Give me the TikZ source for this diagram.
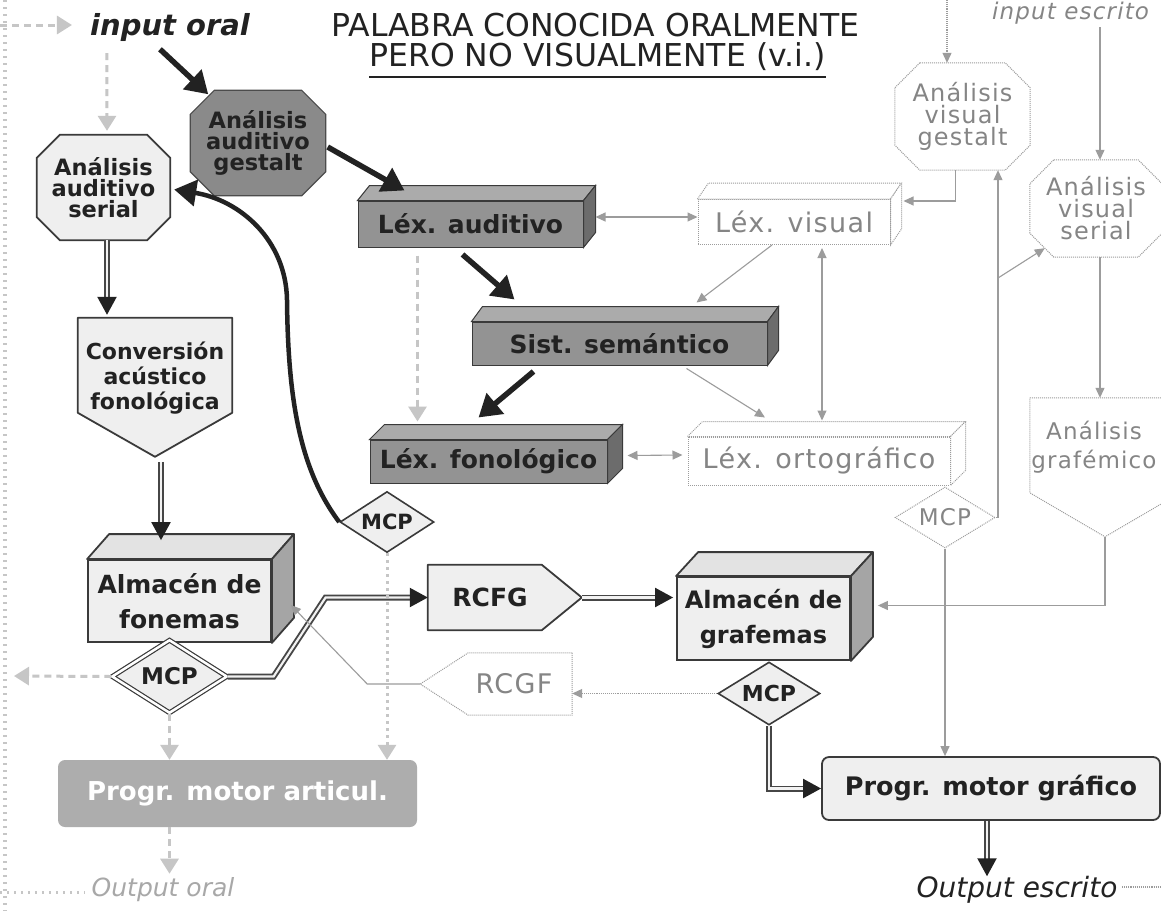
\documentclass[tikz,border=0pt]{standalone}
\usepackage{fontspec}
\setmainfont{DejaVu Sans}
\newfontfamily\grayfam[LetterSpace=5]{DejaVu Sans}
\usetikzlibrary{arrows.meta,shapes.geometric,calc,backgrounds}

\definecolor{ink}{HTML}{222222}
\definecolor{edge}{HTML}{3A3A3A}
\definecolor{dkfront}{HTML}{939393}
\definecolor{dktop}{HTML}{ABABAB}
\definecolor{dkside}{HTML}{6C6C6C}
\definecolor{ltfront}{HTML}{EFEFEF}
\definecolor{lttop}{HTML}{E3E3E3}
\definecolor{ltside}{HTML}{A5A5A5}
\definecolor{faint}{HTML}{858585}
\definecolor{fline}{HTML}{9C9C9C}
\definecolor{ghost}{HTML}{C6C6C6}
\definecolor{artic}{HTML}{ADADAD}
\definecolor{gestdk}{HTML}{8A8A8A}

\newcommand\boldsz[2]{\fontsize{#1}{#2}\selectfont\bfseries}
\newcommand\graysz[2]{\grayfam\fontsize{#1}{#2}\selectfont}
\newcommand\italsz[2]{\fontsize{#1}{#2}\selectfont\itshape}

% octagon drawn behind a node
\newcommand\octof[3]{%
 \begin{scope}[on background layer]
 \filldraw[#3] ($(#1.north west)+(#2,0)$) -- ($(#1.north east)+(-#2,0)$) -- ($(#1.north east)+(0,#2)$) -- ($(#1.south east)+(0,-#2)$) -- ($(#1.south east)+(-#2,0)$) -- ($(#1.south west)+(#2,0)$) -- ($(#1.south west)+(0,-#2)$) -- ($(#1.north west)+(0,#2)$) -- cycle;
 \end{scope}}
% top and side faces of a box
\newcommand\cubefaces[6]{%
 \filldraw[#6,fill=#4] (#1.north west) -- ($(#1.north west)+(#2,-#3)$) -- ($(#1.north east)+(#2,-#3)$) -- (#1.north east) -- cycle;
 \filldraw[#6,fill=#5] (#1.north east) -- ($(#1.north east)+(#2,-#3)$) -- ($(#1.south east)+(#2,-#3)$) -- (#1.south east) -- cycle;}

\begin{document}
\begin{tikzpicture}[x=1pt,y=-1pt,
  lbl/.style={inner sep=0pt, align=center, text=ink},
  darkfront/.style={rectangle, fill=dkfront, draw=edge, line width=1pt, inner sep=0pt, text=ink, font=\boldsz{25}{27}},
  litefront/.style={rectangle, fill=ltfront, draw=edge, line width=1.8pt, inner sep=0pt, align=center, text=ink},
  ghostfront/.style={rectangle, fill=white, draw=fline, line width=1pt, densely dotted, inner sep=0pt, text=faint, font=\graysz{27}{29}},
  darkfaces/.style={draw=edge, line width=1pt},
  litefaces/.style={draw=edge, line width=1.8pt, line join=round},
  ghostfaces/.style={draw=fline, line width=1pt, densely dotted},
  litebg/.style={fill=ltfront, draw=edge, line width=1.8pt, line join=round},
  ghostbg/.style={fill=white, draw=fline, line width=1pt, densely dotted},
  bigarrow/.style={draw=ink, line width=5.5pt, -{Triangle[length=22pt,width=26pt]}},
  dblarrow/.style={draw=white!90!gray, line width=2.2pt, -{Triangle[length=18pt,width=19pt,color=ink]},
     preaction={draw=gray!55!black, line width=6pt, -, shorten >=16pt}},
  gline/.style={draw=fline, line width=1.1pt},
  garrow/.style={gline, -{Triangle[length=10pt,width=9pt]}},
  gboth/.style={gline, {Triangle[length=10pt,width=9pt]}-{Triangle[length=10pt,width=9pt]}},
  gdotarrow/.style={garrow, densely dotted},
  ghostarrow/.style={draw=ghost, line width=3pt, dash pattern=on 7pt off 5pt, -{Triangle[length=15pt,width=18pt,color=ghost]}},
  ghostcol/.style={draw=ghost, line width=4pt, dash pattern=on 2pt off 5pt}
]
\useasboundingbox (0,0) rectangle (1161,911);
\clip (0,0) rectangle (1161,911);
\begin{scope}[on background layer]
\fill[white] (0,0) rectangle (1161,911);
\end{scope}

% free ends
\coordinate (colTop) at (5,0);
\coordinate (colBot) at (5,911);
\coordinate (edgeIn) at (0,25);
\coordinate (edgeMcp) at (14,676);
\coordinate (edgeOut) at (0,892);
\coordinate (topA) at (947,0);
\coordinate (topB) at (1100,27);
\coordinate (edgeR1) at (1122,887);
\coordinate (edgeR2) at (1161,887);

% title and texts
\node[lbl, font=\fontsize{31.5}{34}\selectfont] (t1) at (595.5,25) {PALABRA CONOCIDA ORALMENTE};
\node[lbl, font=\fontsize{31.5}{34}\selectfont] (t2) at (597.5,57) {PERO NO VISUALMENTE (v.i.)};
\draw[ink, line width=1.6pt] ($(t2.west)+(0,20)$) -- ($(t2.east)+(0,20)$);
\node[lbl, font=\italsz{29}{31}\bfseries] (io) at (170,27) {input oral};
\node[lbl, anchor=base west, text=faint, font=\graysz{23}{25}\itshape] (ie) at (992,19) {input escrito};
\node[lbl, font=\italsz{28}{30}] (oe) at (1017,890) {Output escrito};
\node[lbl, text=ghost!85!black, font=\italsz{25}{27}] (oo) at (163,890) {Output oral};

% octagons
\node[lbl, minimum width=135pt, minimum height=105pt, font=\boldsz{22.5}{21}] (gestaud) at (258,143) {Análisis\\auditivo\\gestalt};
\octof{gestaud}{24}{fill=gestdk, draw=gray!60!black, line width=1.2pt}
\node[lbl, minimum width=133pt, minimum height=105pt, font=\boldsz{22.5}{21}] (serialaud) at (103.5,187.5) {Análisis\\auditivo\\serial};
\octof{serialaud}{23}{fill=ltfront, draw=edge, line width=1.8pt}
\node[lbl, minimum width=135pt, minimum height=107pt, text=faint, font=\graysz{24}{22}] (gestvis) at (962.5,116.5) {Análisis\\visual\\gestalt};
\octof{gestvis}{25}{ghostbg}
\node[lbl, minimum width=132pt, minimum height=97pt, text=faint, font=\graysz{24}{22}] (serialvis) at (1096,208.5) {Análisis\\visual\\serial};
\octof{serialvis}{24}{ghostbg}

% pentagons
\node[lbl, minimum width=154pt, minimum height=120pt, font=\boldsz{22}{25}] (conv) at (155,378) {Conversión\\acústico\\fonológica};
\coordinate (convtip) at ($(conv.north)+(0,139)$);
\coordinate (convtop) at ($(conv.north)+(-48,-3)$);
\begin{scope}[on background layer]
\filldraw[litebg] (conv.north west) -- (conv.north east) -- ($(conv.north east)+(0,95)$) -- (convtip) -- ($(conv.north west)+(0,95)$) -- cycle;
\end{scope}
\node[lbl, minimum width=150pt, minimum height=98pt] (grafem) at (1105,447) {};
\node[lbl, text=faint, font=\graysz{23}{29}] (grafemL) at (1094,447) {Análisis\\grafémico};
\coordinate (grafemtip) at ($(grafem.north)+(0,139)$);
\begin{scope}[on background layer]
\filldraw[ghostbg] (grafem.north west) -- (grafem.north east) -- ($(grafem.north east)+(0,95)$) -- (grafemtip) -- ($(grafem.north west)+(0,95)$) -- cycle;
\end{scope}
\node[lbl, minimum width=124pt, minimum height=65pt, font=\boldsz{25}{27}] (rcfg) at (490,597.5) {RCFG};
\coordinate (rcfgtip) at ($(rcfg.west)+(154,0)$);
\begin{scope}[on background layer]
\filldraw[litebg] (rcfg.north west) -- ($(rcfg.north west)+(114,0)$) -- (rcfgtip) -- ($(rcfg.south west)+(114,0)$) -- (rcfg.south west) -- cycle;
\end{scope}
\node[lbl, minimum width=116pt, minimum height=62pt, text=faint, font=\graysz{27}{29}] (rcgf) at (514,684) {RCGF};
\coordinate (rcgftip) at ($(rcgf.east)+(-152,0)$);
\begin{scope}[on background layer]
\filldraw[ghostbg] (rcgf.north east) -- (rcgf.south east) -- ($(rcgf.south east)+(-104,0)$) -- (rcgftip) -- ($(rcgf.north east)+(-104,0)$) -- cycle;
\end{scope}

% 3D boxes
\node[darkfront, minimum width=225pt, minimum height=46pt] (lexaud) at (470.5,224) {Léx. auditivo};
\cubefaces{lexaud}{12}{15}{dktop}{dkside}{darkfaces}
\node[ghostfront, minimum width=192pt, minimum height=45pt] (lexvis) at (794,222) {Léx. visual};
\cubefaces{lexvis}{11}{16}{white}{white}{ghostfaces}
\node[darkfront, minimum width=295pt, minimum height=43pt] (sistsem) at (619.5,343.5) {Sist. semántico};
\cubefaces{sistsem}{11}{15}{dktop}{dkside}{darkfaces}
\node[darkfront, minimum width=237pt, minimum height=43pt] (lexfon) at (488.5,461.5) {Léx. fonológico};
\cubefaces{lexfon}{15}{15}{dktop}{dkside}{darkfaces}
\node[ghostfront, minimum width=262pt, minimum height=48pt] (lexorto) at (819,461) {Léx. ortográfico};
\cubefaces{lexorto}{15}{15}{white}{white}{ghostfaces}
\node[litefront, minimum width=183pt, minimum height=82pt, font=\boldsz{25}{35}] (almfon) at (179.5,601) {Almacén de\\fonemas};
\cubefaces{almfon}{22}{25}{lttop}{ltside}{litefaces}
\node[litefront, minimum width=173pt, minimum height=83pt, font=\boldsz{24}{35}] (almgraf) at (763.5,618.5) {Almacén de\\grafemas};
\cubefaces{almgraf}{22}{24}{lttop}{ltside}{litefaces}

% rounded boxes
\node[rectangle, rounded corners=7pt, fill=artic, minimum width=359pt, minimum height=67pt, inner sep=0pt, text=white, font=\boldsz{26}{28}] (progart) at (237.5,793.5) {Progr. motor articul.};
\node[rectangle, rounded corners=7pt, fill=ltfront, draw=edge, line width=1.8pt, minimum width=338pt, minimum height=63pt, inner sep=0pt, text=ink, font=\boldsz{25.5}{28}] (proggraf) at (991,788.5) {Progr. motor gráfico};

% diamonds
\node[diamond, minimum width=115pt, minimum height=73pt, inner sep=0pt, fill=ltfront, draw=edge, line width=1.2pt, double=white, double distance=2.5pt] (mcpfon) at (169.5,676.5) {};
\node[lbl, font=\boldsz{23}{25}] (mcpfonL) at (mcpfon) {MCP};
\node[diamond, minimum width=94pt, minimum height=61pt, inner sep=0pt, fill=ltfront, draw=edge, line width=1.6pt] (mcpfono) at (387,522) {};
\node[lbl, font=\boldsz{21}{22}] (mcpfonoL) at (mcpfono) {MCP};
\node[diamond, minimum width=102pt, minimum height=63pt, inner sep=0pt, fill=ltfront, draw=edge, line width=1.6pt] (mcpgraf) at (769,693.5) {};
\node[lbl, font=\boldsz{22}{24}] (mcpgrafL) at (mcpgraf) {MCP};
\node[diamond, minimum width=100pt, minimum height=61pt, inner sep=0pt, fill=white, draw=fline, line width=1pt, densely dotted] (mcporto) at (945,517.5) {};
\node[lbl, text=faint, font=\graysz{23}{25}] (mcportoL) at (mcporto) {MCP};

% ---------- connectors ----------
\draw[ghostcol] (colTop) -- (colBot);
\draw[ghostarrow] (edgeIn) -- ($(io.west)+(-18,-2)$);
\draw[ghostarrow] ($(io.south west)+(17,12)$) -- ($(serialaud.north)+(3.5,-4)$);
\draw[bigarrow] ($(io.south)+(-10,8)$) -- ($(gestaud.north west)+(18,4)$);
\draw[bigarrow] ($(gestaud.east)+(2,4)$) -- ($(lexaud.north west)+(47,-10)$);
\draw[bigarrow] ($(lexaud.south)+(-8,7)$) -- ($(sistsem.north west)+(43,-22)$);
\draw[bigarrow] ($(sistsem.south west)+(62,6)$) -- ($(lexfon.north)+(-10,-22)$);
\draw[bigarrow, line width=4.5pt] (mcpfono.west) .. controls (300,470) and (288,400) .. (287,300)
   .. controls (286,240) and (240,200) .. ($(serialaud.east)+(4,2)$);

\draw[dblarrow] ($(serialaud.south)+(3.5,0)$) -- (convtop);
\draw[dblarrow] ($(convtip)+(6,5)$) -- ($(almfon.north)+(-18.5,-19)$);
\draw[dblarrow] (mcpfon.east) -- ++(46,0) -- ++(52,-79) -- (rcfg.west);
\draw[dblarrow] (rcfgtip) -- ($(almgraf.west)+(-3,-21)$);
\draw[dblarrow] (mcpgraf.south) |- (proggraf.west);
\coordinate (pgout) at ($(proggraf.south)+(-4,0)$);
\draw[dblarrow] (pgout) -- (pgout |- oe.north);

\draw[gboth] ($(lexaud.east)+(12,-7)$) -- ($(lexvis.west)+(0,-5)$);
\draw[garrow] ($(lexvis.south)+(-22,0)$) -- ($(sistsem.north)+(77,-19)$);
\draw[gboth] ($(lexvis.south)+(28,3)$) -- ($(lexorto.north)+(3,-16)$);
\draw[garrow] ($(sistsem.south)+(67,3)$) -- ($(lexorto.north)+(-54,-19)$);
\draw[gboth] ($(lexfon.east)+(20,-6)$) -- ($(lexorto.west)+(-5,-6)$);
\draw[ghostarrow] ($(lexaud.south west)+(60,8)$) -- ($(lexfon.north west)+(48,-18)$);

\draw[ghostarrow] (mcpfon.west) -- (edgeMcp);
\draw[ghostarrow] (mcpfon.south) -- (mcpfon.south |- progart.north);
\draw[ghostarrow] (progart.south -| mcpfon.south) -- ($(mcpfon.south |- oo.north)+(0,-4)$);
\draw[ghostcol, line width=3pt] (edgeOut) -- ($(oo.west)+(-6,2)$);
\draw[ghostarrow, dash pattern=on 3pt off 4pt] (mcpfono.south) -- (mcpfono.south |- progart.north);

\draw[gdotarrow] (topA) -- (topA |- gestvis.north);
\draw[garrow] (topB) -- (topB |- serialvis.north);
\draw[garrow] ($(gestvis.south)+(-7,0)$) |- ($(lexvis.north east)+(13,2)$);
\coordinate (gvin) at ($(gestvis.south)+(35.5,0)$);
\draw[garrow] (mcporto.east) -| (gvin);
\coordinate (brA) at (998,278);
\draw[garrow] (brA) -- ($(serialvis.south west)+(15,-9)$);
\draw[garrow] ($(serialvis.south)+(4,0)$) -- ($(grafem.north)+(-5,0)$);
\draw[garrow] (grafemtip) |- ($(almgraf.east)+(27,-13)$);
\draw[garrow] (mcporto.south) -- (mcporto.south |- proggraf.north);
\draw[gdotarrow] (mcpgraf.west) -- (mcpgraf.west -| rcgf.east);
\draw[garrow] (rcgftip) -- ++(-53,0) -- ($(almfon.east)+(19,4)$);
\draw[gline, densely dotted] (edgeR1) -- (edgeR2);
\end{tikzpicture}
\end{document}
